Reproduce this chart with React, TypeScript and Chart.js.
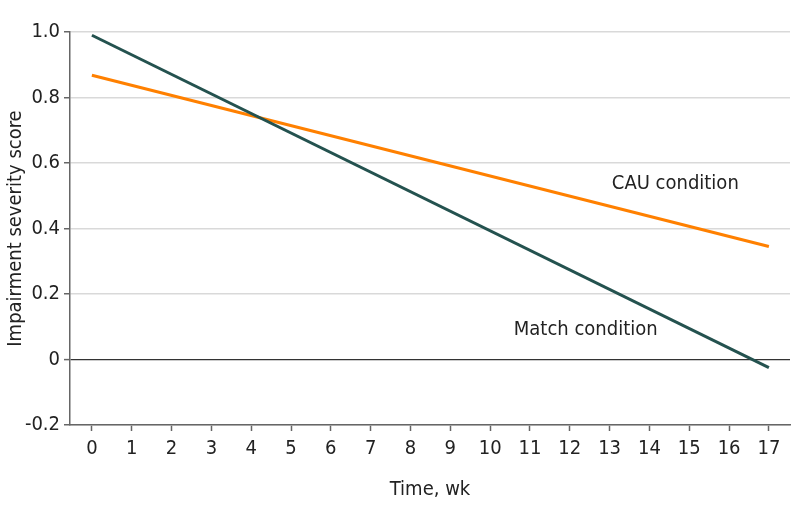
import React, { useEffect, useRef } from "react";
import { Chart, registerables } from "chart.js";

Chart.register(...registerables);

const weeks = [0, 17];
const matchValues = [0.99, -0.025];
const cauValues = [0.868, 0.345];
const yTicks = [-0.2, 0, 0.2, 0.4, 0.6, 0.8, 1.0];
const seriesNames = ["Match condition", "CAU condition"];
const labelAnchors = [
  { name: "CAU condition", x: 14.65, y: 0.535 },
  { name: "Match condition", x: 12.4, y: 0.092 },
];

const FONT = "'DejaVu Sans Condensed', 'Liberation Sans Narrow', Lato, sans-serif";

export default function App() {
  const ref = useRef<HTMLCanvasElement | null>(null);
  useEffect(() => {
    if (!ref.current) return;
    const labelPlugin = {
      id: "lineLabels",
      afterDatasetsDraw(chart: any) {
        const { ctx, scales } = chart;
        ctx.save();
        ctx.fillStyle = "#222";
        ctx.font = `20px ${FONT}`;
        ctx.textAlign = "center";
        ctx.textBaseline = "middle";
        labelAnchors.forEach((l) => {
          ctx.fillText(l.name, scales.x.getPixelForValue(l.x), scales.y.getPixelForValue(l.y));
        });
        ctx.restore();
      },
    };
    const chart = new Chart(ref.current, {
      type: "line",
      data: {
        datasets: [
          {
            label: seriesNames[0],
            data: weeks.map((w, i) => ({ x: w, y: matchValues[i] })),
            borderColor: "#24524F",
            borderWidth: 3,
            pointRadius: 0,
          },
          {
            label: seriesNames[1],
            data: weeks.map((w, i) => ({ x: w, y: cauValues[i] })),
            borderColor: "#FF8000",
            borderWidth: 3,
            pointRadius: 0,
          },
        ],
      },
      options: {
        animation: false,
        responsive: false,
        layout: { padding: { top: 32, right: 11, left: 0, bottom: 0 } },
        plugins: { legend: { display: false }, tooltip: { enabled: false } },
        scales: {
          x: {
            type: "linear",
            min: -0.55,
            max: 17.53,
            afterBuildTicks: (s: any) => {
              s.ticks = Array.from({ length: 18 }, (_, i) => ({ value: i }));
            },
            afterFit: (s: any) => {
              s.height = 506 - 425;
            },
            border: { color: "#666", width: 1.5 },
            grid: { drawOnChartArea: false, drawTicks: true, tickLength: 6, tickColor: "#666", tickWidth: 1.5 },
            ticks: { color: "#222", font: { family: FONT, size: 20 }, padding: 6, maxRotation: 0, autoSkip: false },
            title: { display: true, text: "Time, wk", color: "#222", font: { family: FONT, size: 20 }, padding: { top: 6 } },
          },
          y: {
            min: -0.2,
            max: 1.0,
            afterBuildTicks: (s: any) => {
              s.ticks = yTicks.map((v) => ({ value: v }));
            },
            afterFit: (s: any) => {
              s.width = 70;
            },
            border: { color: "#666", width: 1.5 },
            grid: {
              color: (c: any) => (c.tick && Math.abs(c.tick.value) < 1e-9 ? "#333" : "#d9d9d9"),
              lineWidth: (c: any) => (c.tick && Math.abs(c.tick.value) < 1e-9 ? 1.2 : 1.5),
              tickLength: 6,
              tickColor: "#666",
              tickWidth: 1.5,
            },
            ticks: {
              color: "#222",
              font: { family: FONT, size: 20 },
              padding: 4,
              callback: (v: any) => (Number(v) === 0 ? "0" : Number(v).toFixed(1)),
            },
            title: { display: true, text: "Impairment severity score", color: "#222", font: { family: FONT, size: 20 }, padding: { bottom: 0 } },
          },
        },
      },
      plugins: [labelPlugin],
    });
    return () => chart.destroy();
  }, []);
  return (
    <div style={{ position: "fixed", left: 0, top: 0, width: 801, height: 506, background: "#fff" }}>
      <canvas ref={ref} width={801} height={506} />
    </div>
  );
}
